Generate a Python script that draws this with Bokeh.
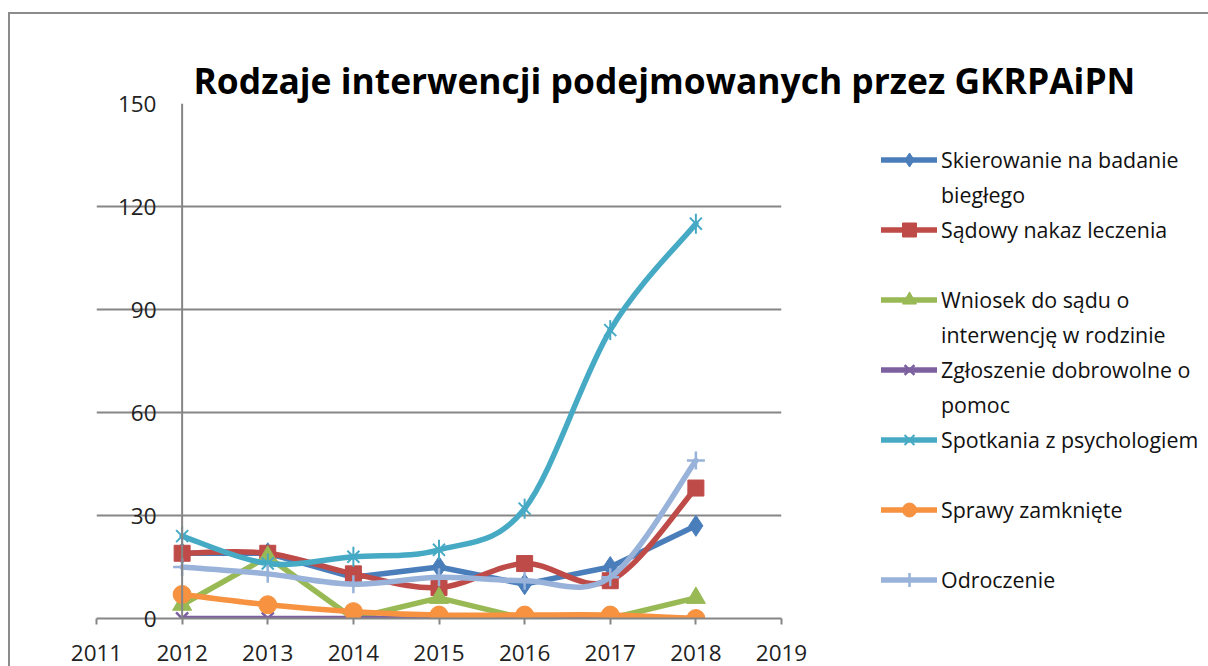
import numpy as np
from bokeh.plotting import figure
from bokeh.models import (ColumnDataSource, FixedTicker, Legend, LegendItem, Span, Range1d)
from bokeh.embed import file_html
from bokeh.resources import INLINE

# ---------------- data ----------------
years = [2012, 2013, 2014, 2015, 2016, 2017, 2018]
skierowanie = [19, 19, 12, 15, 10, 15, 27]
sadowy = [19, 19, 13, 9, 16, 11, 38]
wniosek = [4, 18, 0, 6, 0, 0, 6]
zgloszenie = [0, 0, 0, 0, 0, 0, 0]
spotkania = [24, 16, 18, 20, 32, 84, 115]
sprawy = [7, 4, 2, 1, 1, 1, 0]
odroczenie = [15, 13, 10, 12, 11, 12, 46]

x_ticks = [2011, 2012, 2013, 2014, 2015, 2016, 2017, 2018, 2019]
x_tick_labels = ["2011", "2012", "2013", "2014", "2015", "2016", "2017", "2018", "2019"]
y_ticks = [0, 30, 60, 90, 120, 150]
y_tick_labels = ["0", "30", "60", "90", "120", "150"]

legend_labels = ["Skierowanie na badanie\nbiegłego", "Sądowy nakaz leczenia",
                 "Wniosek do sądu o\ninterwencję w rodzinie",
                 "Zgłoszenie dobrowolne o\npomoc", "Spotkania z psychologiem",
                 "Sprawy zamknięte", "Odroczenie"]

title_text = "Rodzaje interwencji podejmowanych przez GKRPAiPN"

FONT = "Open Sans"
GRID = "#868686"

p = figure(frame_width=685, frame_height=515,
           min_border_left=86, min_border_right=427, min_border_top=89, min_border_bottom=48,
           x_range=Range1d(2011, 2019), y_range=Range1d(0, 150),
           toolbar_location=None, tools="", output_backend="svg")
p.styles = {"border-top": "2px solid #8c8c8c", "border-left": "2px solid #8c8c8c",
            "margin-top": "12px", "margin-left": "8px"}
p.outline_line_color = None
p.background_fill_color = "white"
p.border_fill_color = "white"

# title
p.title.text = title_text
p.title.align = "left"
p.title.offset = 97
p.title.standoff = 0
p.title.text_font = FONT
p.title.text_font_size = "35.4px"
p.title.text_font_style = "bold"
p.title.text_color = "#000000"

# axes
p.xaxis.ticker = FixedTicker(ticks=x_ticks)
p.xaxis.major_label_overrides = {t: l for t, l in zip(x_ticks, x_tick_labels)}
p.xaxis.axis_line_color = GRID
p.xaxis.axis_line_width = 2
p.xaxis.major_tick_line_color = GRID
p.xaxis.major_tick_line_width = 2
p.xaxis.major_tick_in = 0
p.xaxis.major_tick_out = 6
p.xaxis.minor_tick_line_color = None
p.xaxis.major_label_standoff = 20
p.xaxis.major_label_text_font = FONT
p.xaxis.major_label_text_font_size = "22.5px"
p.xaxis.major_label_text_color = "#222222"

p.yaxis.ticker = FixedTicker(ticks=y_ticks)
p.yaxis.major_label_overrides = {t: l for t, l in zip(y_ticks, y_tick_labels)}
p.yaxis.axis_line_color = None
p.yaxis.major_tick_line_color = None
p.yaxis.major_tick_in = 0
p.yaxis.major_tick_out = 0
p.yaxis.minor_tick_line_color = None
p.yaxis.major_label_standoff = -60
p.yaxis.major_label_text_font = FONT
p.yaxis.major_label_text_font_size = "22.5px"
p.yaxis.major_label_text_color = "#222222"

p.xgrid.grid_line_color = None
p.ygrid.ticker = FixedTicker(ticks=y_ticks)
p.ygrid.grid_line_color = GRID
p.ygrid.grid_line_width = 2

# vertical axis line crossing at 2012
p.add_layout(Span(location=2012, dimension="height", line_color=GRID, line_width=2))


def bezier_source(xs, ys):
    n = len(xs)
    d = dict(x0=[], y0=[], x1=[], y1=[], cx0=[], cy0=[], cx1=[], cy1=[])
    for i in range(n - 1):
        a = i - 1 if i > 0 else i
        b = i + 2 if i + 2 < n else i + 1
        d["x0"].append(xs[i]); d["y0"].append(ys[i])
        d["x1"].append(xs[i + 1]); d["y1"].append(ys[i + 1])
        d["cx0"].append(xs[i] + (xs[i + 1] - xs[a]) / 6.0)
        d["cy0"].append(ys[i] + (ys[i + 1] - ys[a]) / 6.0)
        d["cx1"].append(xs[i + 1] - (xs[b] - xs[i]) / 6.0)
        d["cy1"].append(ys[i + 1] - (ys[b] - ys[i]) / 6.0)
    return ColumnDataSource(d)


series = [
    dict(vals=skierowanie, color="#4A7EBB", smooth=False,
         markers=[dict(marker="diamond", size=21, fill=True, lw=1)]),
    dict(vals=sadowy, color="#BE4B48", smooth=True,
         markers=[dict(marker="square", size=16, fill=True, lw=1)]),
    dict(vals=wniosek, color="#98B954", smooth=False,
         markers=[dict(marker="triangle", size=19, fill=True, lw=1)]),
    dict(vals=zgloszenie, color="#7D60A0", smooth=False,
         markers=[dict(marker="x", size=17, fill=False, lw=2.5)]),
    dict(vals=spotkania, color="#46AAC5", smooth=True,
         markers=[dict(marker="x", size=17, fill=False, lw=2),
                  dict(marker="dash", size=20, fill=False, lw=2, angle=np.pi / 2)]),
    dict(vals=sprawy, color="#F69240", smooth=True,
         markers=[dict(marker="circle", size=18, fill=True, lw=1)]),
    dict(vals=odroczenie, color="#98B2DA", smooth=True,
         markers=[dict(marker="cross", size=18, fill=False, lw=2.5)]),
]

# invisible renderer used for the wrapped second lines of legend entries
ghost = p.line(years, zgloszenie, line_alpha=0)

NB = "\u00a0"
items = []
for k, (s, lab) in enumerate(zip(series, legend_labels)):
    rs = []
    if s["smooth"]:
        r = p.bezier(x0="x0", y0="y0", x1="x1", y1="y1", cx0="cx0", cy0="cy0",
                     cx1="cx1", cy1="cy1", source=bezier_source(years, s["vals"]),
                     line_color=s["color"], line_width=5.5, line_cap="round")
    else:
        r = p.line(years, s["vals"], line_color=s["color"], line_width=5.5,
                   line_join="round", line_cap="round")
    rs.append(r)
    for m in s["markers"]:
        kw = dict(marker=m["marker"], size=m["size"], line_color=s["color"],
                  line_width=m["lw"])
        kw["fill_color"] = s["color"] if m.get("fill") else None
        if "angle" in m:
            kw["angle"] = m["angle"]
        rs.append(p.scatter(years, s["vals"], **kw))
    lines = lab.split("\n")
    items.append(LegendItem(label=lines[0], renderers=rs))
    if len(lines) > 1:
        items.append(LegendItem(label=lines[1], renderers=[ghost]))
    elif k < len(series) - 1:
        items.append(LegendItem(label=NB, renderers=[ghost]))

legend = Legend(items=items, location=(100, 21), margin=0, padding=0, spacing=0,
                label_height=35, glyph_height=35, glyph_width=56, label_standoff=4,
                border_line_alpha=0, background_fill_alpha=0,
                label_text_font=FONT, label_text_font_size="21.4px",
                label_text_color="#111111", click_policy="none")
p.add_layout(legend, "right")

open("out.html", "w").write(file_html(p, INLINE))
